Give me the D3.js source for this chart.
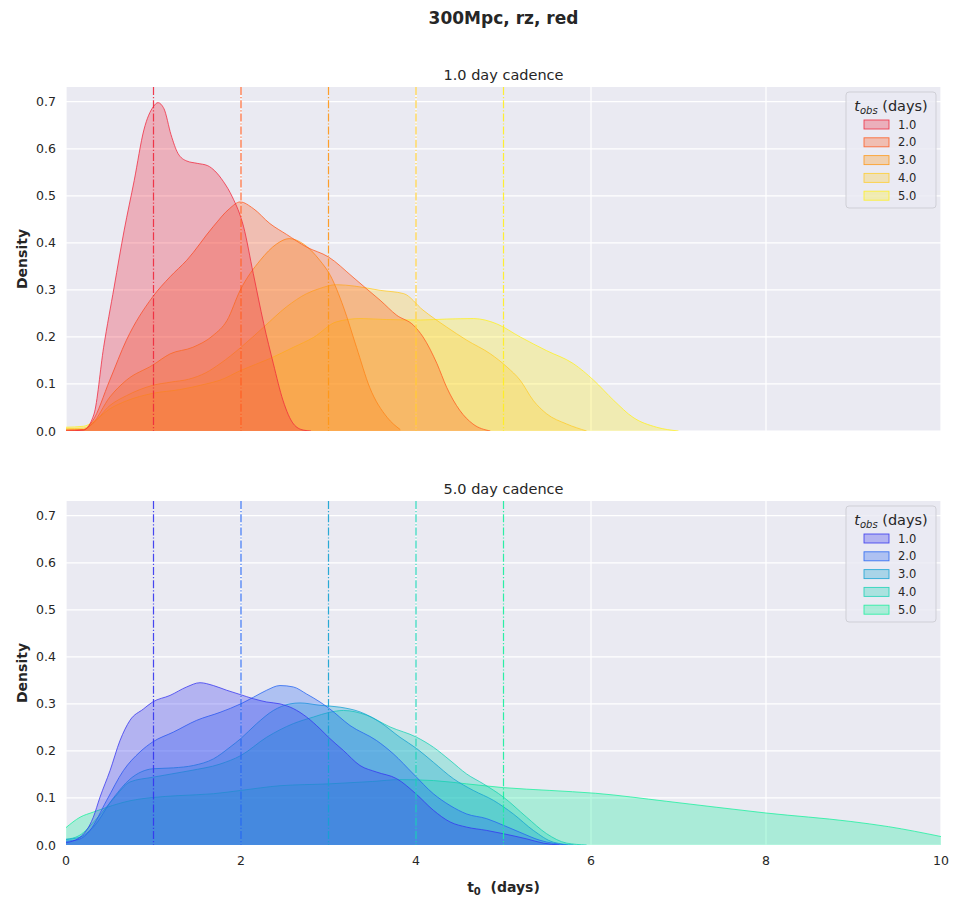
<!DOCTYPE html>
<html>
<head>
<meta charset="utf-8">
<script src="https://cdn.jsdelivr.net/npm/d3@7"></script>
<style>
  html, body { margin: 0; padding: 0; background: #ffffff; }
  svg { display: block; font-family: "DejaVu Sans", sans-serif; }
</style>
</head>
<body>
<svg id="chart" width="963" height="902"></svg>
<script>
// t_obs levels shared by both panels
const tobsLevels = ["1.0", "2.0", "3.0", "4.0", "5.0"];
const tobsValues = [1, 2, 3, 4, 5];

// x / y ticks
const xTicks = [0, 2, 4, 6, 8, 10];
const yTicks = [0, 0.1, 0.2, 0.3, 0.4, 0.5, 0.6, 0.7];
const yTickLabels = ["0.0", "0.1", "0.2", "0.3", "0.4", "0.5", "0.6", "0.7"];

// ---- 1.0 day cadence: KDE of t0 per t_obs ----
const c1_t1_x = [0, 0.2, 0.32, 0.43, 0.55, 0.665, 0.78, 0.89, 1.0, 1.05, 1.12, 1.2, 1.28, 1.38, 1.5, 1.62, 1.7, 1.8, 1.9, 2.03, 2.14, 2.26, 2.37, 2.48, 2.6, 2.71, 2.8];
const c1_t1_y = [0, 0.002, 0.036, 0.178, 0.306, 0.427, 0.533, 0.64, 0.69, 0.698, 0.685, 0.63, 0.59, 0.574, 0.569, 0.564, 0.553, 0.53, 0.498, 0.434, 0.335, 0.228, 0.143, 0.065, 0.015, 0.002, 0];

const c1_t2_x = [0, 0.2, 0.3, 0.5, 0.69, 0.99, 1.19, 1.38, 1.68, 1.87, 1.99, 2.14, 2.33, 2.52, 2.75, 3.0, 3.28, 3.45, 3.59, 3.78, 3.97, 4.08, 4.24, 4.35, 4.5, 4.65, 4.85];
const c1_t2_y = [0.002, 0.003, 0.02, 0.108, 0.193, 0.285, 0.328, 0.363, 0.434, 0.473, 0.487, 0.473, 0.441, 0.418, 0.391, 0.370, 0.327, 0.300, 0.278, 0.246, 0.225, 0.2, 0.143, 0.093, 0.044, 0.015, 0];

const c1_t3_x = [0, 0.2, 0.3, 0.5, 0.69, 0.99, 1.19, 1.45, 1.68, 1.84, 1.99, 2.22, 2.41, 2.55, 2.71, 2.9, 3.02, 3.17, 3.32, 3.47, 3.67, 3.82];
const c1_t3_y = [0.002, 0.003, 0.015, 0.072, 0.108, 0.14, 0.164, 0.178, 0.203, 0.235, 0.299, 0.363, 0.398, 0.409, 0.398, 0.363, 0.331, 0.264, 0.178, 0.093, 0.029, 0.003];

const c1_t4_x = [0, 0.2, 0.3, 0.5, 0.69, 0.99, 1.2, 1.4, 1.6, 1.76, 2.0, 2.26, 2.52, 2.75, 2.9, 3.09, 3.3, 3.59, 3.86, 4.08, 4.35, 4.58, 4.85, 5.04, 5.19, 5.34, 5.49, 5.72, 5.95];
const c1_t4_y = [0.005, 0.006, 0.015, 0.054, 0.075, 0.097, 0.104, 0.11, 0.124, 0.143, 0.178, 0.221, 0.264, 0.292, 0.303, 0.311, 0.308, 0.299, 0.292, 0.257, 0.221, 0.193, 0.164, 0.136, 0.108, 0.065, 0.037, 0.015, 0];

const c1_t5_x = [0, 0.2, 0.3, 0.5, 0.69, 0.99, 1.3, 1.6, 1.76, 2.0, 2.33, 2.6, 2.83, 3.09, 3.36, 3.66, 4.05, 4.35, 4.66, 4.92, 5.19, 5.49, 5.8, 6.03, 6.26, 6.48, 6.75, 7.0];
const c1_t5_y = [0.008, 0.01, 0.018, 0.047, 0.064, 0.08, 0.088, 0.1, 0.108, 0.129, 0.154, 0.178, 0.199, 0.232, 0.239, 0.237, 0.236, 0.238, 0.239, 0.228, 0.2, 0.171, 0.143, 0.108, 0.065, 0.029, 0.008, 0];

// ---- 5.0 day cadence ----
const c5_t1_x = [0, 0.15, 0.312, 0.389, 0.503, 0.617, 0.731, 0.884, 0.99, 1.189, 1.379, 1.531, 1.684, 1.836, 1.989, 2.141, 2.293, 2.446, 2.598, 2.75, 2.903, 3.0, 3.17, 3.36, 3.55, 3.779, 3.998, 4.198, 4.389, 4.579, 4.808, 4.998, 5.265, 5.455, 5.64];
const c5_t1_y = [0.005, 0.015, 0.059, 0.102, 0.158, 0.222, 0.265, 0.289, 0.304, 0.318, 0.336, 0.345, 0.339, 0.329, 0.32, 0.311, 0.304, 0.3, 0.29, 0.272, 0.247, 0.229, 0.201, 0.169, 0.155, 0.141, 0.109, 0.074, 0.049, 0.038, 0.031, 0.024, 0.013, 0.004, 0];

const c5_t2_x = [0, 0.15, 0.274, 0.465, 0.655, 0.846, 0.99, 1.227, 1.493, 1.76, 1.996, 2.141, 2.293, 2.446, 2.598, 2.75, 2.903, 3.01, 3.246, 3.55, 3.74, 3.97, 4.198, 4.389, 4.579, 4.808, 4.998, 5.188, 5.417, 5.72];
const c5_t2_y = [0.008, 0.012, 0.031, 0.095, 0.158, 0.198, 0.219, 0.24, 0.265, 0.282, 0.3, 0.314, 0.329, 0.339, 0.336, 0.321, 0.304, 0.29, 0.254, 0.222, 0.194, 0.151, 0.109, 0.084, 0.066, 0.056, 0.042, 0.027, 0.01, 0];

const c5_t3_x = [0, 0.15, 0.312, 0.541, 0.731, 0.99, 1.227, 1.455, 1.684, 1.874, 1.996, 2.179, 2.37, 2.56, 2.674, 2.903, 3.132, 3.36, 3.589, 3.817, 4.008, 4.198, 4.427, 4.655, 4.884, 5.112, 5.341, 5.57, 5.8];
const c5_t3_y = [0.012, 0.016, 0.038, 0.1, 0.14, 0.162, 0.164, 0.169, 0.183, 0.208, 0.226, 0.258, 0.286, 0.3, 0.302, 0.297, 0.293, 0.283, 0.261, 0.229, 0.205, 0.176, 0.141, 0.116, 0.095, 0.066, 0.031, 0.006, 0];

const c5_t4_x = [0, 0.15, 0.35, 0.541, 0.731, 0.99, 1.417, 1.76, 1.996, 2.293, 2.598, 2.827, 3.01, 3.17, 3.436, 3.703, 4.008, 4.198, 4.389, 4.579, 4.77, 4.998, 5.265, 5.493, 5.722, 5.95];
const c5_t4_y = [0.012, 0.02, 0.056, 0.098, 0.134, 0.144, 0.158, 0.172, 0.19, 0.229, 0.258, 0.272, 0.282, 0.286, 0.276, 0.251, 0.229, 0.208, 0.18, 0.151, 0.13, 0.102, 0.059, 0.024, 0.004, 0];

const c5_t5_x = [0, 0.16, 0.312, 0.465, 0.731, 0.99, 1.29, 1.684, 1.996, 2.446, 3.01, 3.5, 3.817, 4.198, 4.579, 4.998, 5.53, 6.05, 6.86, 8.0, 8.97, 9.4, 10];
const c5_t5_y = [0.037, 0.059, 0.07, 0.08, 0.094, 0.101, 0.105, 0.109, 0.116, 0.126, 0.13, 0.135, 0.139, 0.137, 0.13, 0.122, 0.116, 0.11, 0.093, 0.068, 0.05, 0.039, 0.018];

const warmColors = ["#f0283c", "#ff5a1e", "#ff9614", "#ffcc2a", "#fff01e"];
const coolColors = ["#3434f0", "#2464f2", "#14a2d2", "#16d2b4", "#16f09c"];

const panels = [
  {
    title: "1.0 day cadence",
    colors: warmColors,
    xs: [c1_t1_x, c1_t2_x, c1_t3_x, c1_t4_x, c1_t5_x],
    ys: [c1_t1_y, c1_t2_y, c1_t3_y, c1_t4_y, c1_t5_y],
    top: 87, bottom: 431, showX: false
  },
  {
    title: "5.0 day cadence",
    colors: coolColors,
    xs: [c5_t1_x, c5_t2_x, c5_t3_x, c5_t4_x, c5_t5_x],
    ys: [c5_t1_y, c5_t2_y, c5_t3_y, c5_t4_y, c5_t5_y],
    top: 501, bottom: 845, showX: true
  }
];

const svg = d3.select("#chart");
const left = 66, right = 941;
const x = d3.scaleLinear().domain([0, 10]).range([left, right]);
const yMax = 0.7313;
const textColor = "#262626";

svg.append("text")
  .attr("x", 503.5).attr("y", 24)
  .attr("text-anchor", "middle")
  .attr("font-size", 17).attr("font-weight", "bold")
  .attr("fill", textColor)
  .text("300Mpc, rz, red");

panels.forEach((p, pi) => {
  const y = d3.scaleLinear().domain([0, yMax]).range([p.bottom, p.top]);
  const g = svg.append("g");

  const clipId = "clip" + pi;
  g.append("clipPath").attr("id", clipId)
    .append("rect").attr("x", left).attr("y", p.top)
    .attr("width", right - left).attr("height", p.bottom - p.top);

  g.append("rect")
    .attr("x", left).attr("y", p.top)
    .attr("width", right - left).attr("height", p.bottom - p.top)
    .attr("fill", "#eaeaf2");

  // grid
  g.selectAll(".gy").data(yTicks).join("line")
    .attr("x1", left).attr("x2", right)
    .attr("y1", d => y(d)).attr("y2", d => y(d))
    .attr("stroke", "#ffffff").attr("stroke-width", 1.25);
  g.selectAll(".gx").data(xTicks).join("line")
    .attr("x1", d => x(d)).attr("x2", d => x(d))
    .attr("y1", p.top).attr("y2", p.bottom)
    .attr("stroke", "#ffffff").attr("stroke-width", 1.25);

  // y tick labels
  g.selectAll(".ty").data(yTicks).join("text")
    .attr("x", 56).attr("y", d => y(d) + 4.5)
    .attr("text-anchor", "end")
    .attr("font-size", 12.5).attr("fill", textColor)
    .text((d, i) => yTickLabels[i]);

  if (p.showX) {
    g.selectAll(".tx").data(xTicks).join("text")
      .attr("x", d => x(d)).attr("y", p.bottom + 20)
      .attr("text-anchor", "middle")
      .attr("font-size", 12.5).attr("fill", textColor)
      .text(d => d);
  }

  // panel title
  g.append("text")
    .attr("x", 503.5).attr("y", p.top - 7)
    .attr("text-anchor", "middle")
    .attr("font-size", 14.5).attr("fill", textColor)
    .text(p.title);

  // y label
  g.append("text")
    .attr("transform", `translate(27,${(p.top + p.bottom) / 2}) rotate(-90)`)
    .attr("text-anchor", "middle")
    .attr("font-size", 14).attr("font-weight", "bold")
    .attr("fill", textColor)
    .text("Density");

  const plot = g.append("g").attr("clip-path", `url(#${clipId})`);

  const area = d3.area()
    .x(d => x(d[0])).y0(y(0)).y1(d => y(d[1]))
    .curve(d3.curveMonotoneX);
  const line = d3.line()
    .x(d => x(d[0])).y(d => y(d[1]))
    .curve(d3.curveMonotoneX);

  // later levels underneath, first level on top
  for (let i = tobsLevels.length - 1; i >= 0; i--) {
    const pts = p.xs[i].map((v, k) => [v, p.ys[i][k]]);
    plot.append("path").attr("d", area(pts))
      .attr("fill", p.colors[i]).attr("fill-opacity", 0.3);
    plot.append("path").attr("d", line(pts))
      .attr("fill", "none").attr("stroke", p.colors[i])
      .attr("stroke-width", 0.9).attr("stroke-opacity", 0.85);
  }

  // dash-dot markers at each t_obs
  tobsValues.forEach((v, i) => {
    plot.append("line")
      .attr("x1", x(v)).attr("x2", x(v))
      .attr("y1", p.top).attr("y2", p.bottom)
      .attr("stroke", p.colors[i]).attr("stroke-width", 1.2)
      .attr("stroke-opacity", 0.9)
      .attr("stroke-dasharray", "8,2,1.2,2");
  });

  // legend
  const lg = g.append("g");
  const lx = 846, ly = p.top + 5;
  lg.append("rect")
    .attr("x", lx).attr("y", ly).attr("width", 90).attr("height", 116)
    .attr("rx", 3).attr("fill", "#eaeaf2").attr("fill-opacity", 0.8)
    .attr("stroke", "#cfcfd6").attr("stroke-width", 1);
  const title = lg.append("text")
    .attr("x", lx + 45).attr("y", ly + 19)
    .attr("text-anchor", "middle")
    .attr("font-size", 14.5).attr("fill", textColor);
  title.append("tspan").attr("font-style", "italic").text("t");
  title.append("tspan").attr("font-style", "italic")
    .attr("font-size", 10).attr("dy", 3).text("obs");
  title.append("tspan").attr("dy", -3).text(" (days)");

  tobsLevels.forEach((lab, i) => {
    const cy = ly + 32.5 + i * 17.8;
    lg.append("rect")
      .attr("x", lx + 18).attr("y", cy - 4.5)
      .attr("width", 25).attr("height", 9)
      .attr("fill", p.colors[i]).attr("fill-opacity", 0.3)
      .attr("stroke", p.colors[i]).attr("stroke-opacity", 0.85).attr("stroke-width", 0.9);
    lg.append("text")
      .attr("x", lx + 52).attr("y", cy + 4)
      .attr("font-size", 11.5).attr("fill", textColor)
      .text(lab);
  });
});

// x label: t0 (days)
const xl = svg.append("text")
  .attr("x", 503.5).attr("y", 892)
  .attr("text-anchor", "middle")
  .attr("font-size", 14).attr("font-weight", "bold")
  .attr("fill", "#262626")
  .attr("xml:space", "preserve");
xl.append("tspan").text("t");
xl.append("tspan").attr("font-size", 10).attr("dy", 3).text("0");
xl.append("tspan").attr("dy", -3).text("\u00a0\u00a0(days)");
</script>
</body>
</html>
